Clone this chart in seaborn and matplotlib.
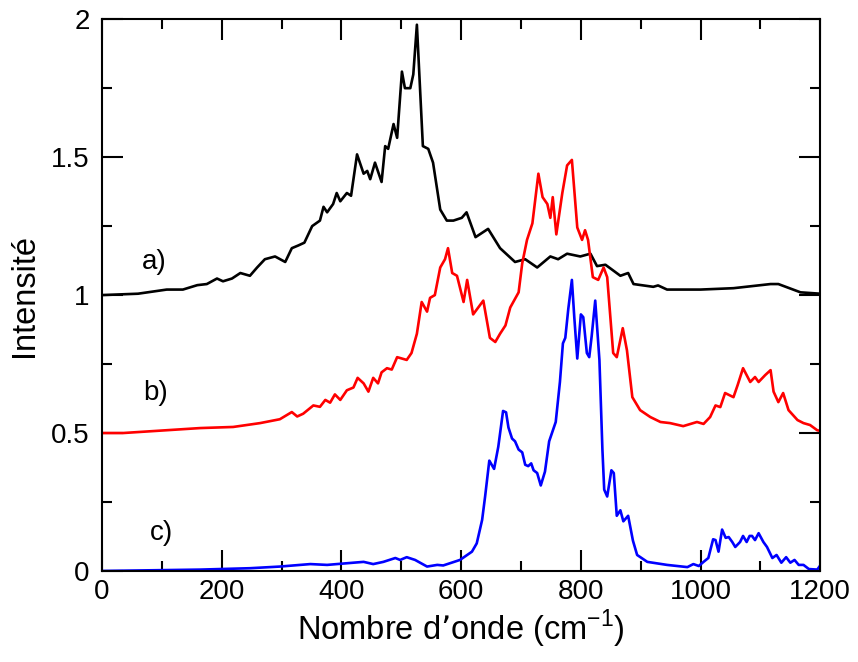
import numpy as np
import pandas as pd
import seaborn as sns
import matplotlib.pyplot as plt
from matplotlib.ticker import MultipleLocator, FuncFormatter

# Spectre a) (noir)
xa = [0, 60, 108, 135, 159, 175, 192, 202, 217, 231, 247, 259, 272, 289, 306, 317, 328, 338,
      351, 364, 370, 376, 386, 392, 398, 409, 416, 426, 437, 443, 448, 456, 467, 473, 478,
      487, 493, 501, 506, 515, 520, 526, 536, 545, 553, 565, 576, 587, 601, 609, 624, 645,
      665, 690, 707, 727, 749, 762, 777, 799, 816, 827, 841, 866, 879, 888, 921, 929, 944,
      1000, 1055, 1117, 1130, 1167, 1200]
ya = [1.0, 1.005, 1.02, 1.02, 1.036, 1.04, 1.06, 1.05, 1.06, 1.08, 1.07, 1.10, 1.13, 1.14,
      1.12, 1.17, 1.18, 1.19, 1.25, 1.27, 1.32, 1.30, 1.33, 1.37, 1.34, 1.37, 1.36, 1.51,
      1.44, 1.45, 1.42, 1.48, 1.41, 1.54, 1.53, 1.62, 1.57, 1.81, 1.75, 1.75, 1.80, 1.98,
      1.54, 1.53, 1.48, 1.31, 1.27, 1.27, 1.28, 1.30, 1.21, 1.24, 1.17, 1.12, 1.13, 1.10,
      1.14, 1.13, 1.15, 1.14, 1.15, 1.105, 1.11, 1.07, 1.08, 1.04, 1.03, 1.035, 1.02, 1.02,
      1.025, 1.04, 1.04, 1.01, 1.005]

# Spectre b) (rouge)
xb = [0, 35, 164, 219, 264, 297, 317, 326, 336, 353, 364, 373, 381, 389, 398, 409, 420, 427,
      437, 445, 453, 461, 467, 476, 484, 493, 501, 509, 517, 526, 534, 543, 548, 556, 565,
      573, 578, 585, 593, 604, 610, 620, 637, 648, 657, 665, 674, 682, 696, 702, 710, 719,
      729, 736, 744, 749, 753, 759, 769, 777, 785, 794, 802, 807, 812, 820, 829, 838, 844,
      854, 860, 870, 877, 886, 899, 916, 933, 949, 971, 994, 1005, 1016, 1025, 1033, 1041,
      1055, 1062, 1071, 1083, 1091, 1097, 1108, 1117, 1122, 1130, 1138, 1147, 1162, 1172,
      1183, 1195, 1200]
yb = [0.50, 0.50, 0.518, 0.522, 0.536, 0.55, 0.576, 0.56, 0.57, 0.60, 0.595, 0.62, 0.61,
      0.64, 0.62, 0.655, 0.665, 0.70, 0.68, 0.65, 0.70, 0.68, 0.72, 0.735, 0.73, 0.775,
      0.77, 0.765, 0.79, 0.86, 0.975, 0.94, 0.99, 1.0, 1.10, 1.13, 1.17, 1.08, 1.07, 0.975,
      1.055, 0.93, 0.98, 0.845, 0.83, 0.86, 0.89, 0.955, 1.01, 1.115, 1.20, 1.26, 1.44,
      1.355, 1.33, 1.28, 1.355, 1.22, 1.37, 1.47, 1.49, 1.245, 1.20, 1.235, 1.20, 1.065,
      1.055, 1.10, 1.065, 0.79, 0.775, 0.88, 0.80, 0.63, 0.583, 0.558, 0.54, 0.536, 0.525,
      0.54, 0.533, 0.558, 0.60, 0.594, 0.645, 0.63, 0.674, 0.735, 0.685, 0.703, 0.685,
      0.71, 0.728, 0.65, 0.612, 0.645, 0.583, 0.547, 0.536, 0.529, 0.51, 0.508]

# Spectre c) (bleu)
xc = [0, 164, 247, 297, 348, 376, 420, 437, 453, 470, 490, 498, 509, 523, 543, 560, 570,
      598, 618, 626, 635, 640, 647, 655, 662, 670, 675, 679, 685, 690, 696, 702, 707, 712,
      717, 721, 727, 733, 740, 747, 758, 765, 770, 774, 779, 785, 789, 794, 800, 804, 810,
      814, 818, 824, 831, 836, 839, 844, 851, 855, 860, 866, 871, 879, 887, 894, 911, 944,
      978, 988, 997, 1005, 1013, 1021, 1025, 1030, 1036, 1042, 1047, 1053, 1058, 1066,
      1071, 1077, 1082, 1086, 1091, 1097, 1105, 1111, 1120, 1127, 1135, 1143, 1150, 1157,
      1164, 1172, 1181, 1195, 1200]
yc = [0.0, 0.005, 0.01, 0.016, 0.025, 0.022, 0.03, 0.033, 0.025, 0.033, 0.047, 0.04, 0.05,
      0.04, 0.016, 0.022, 0.02, 0.04, 0.07, 0.10, 0.185, 0.27, 0.40, 0.37, 0.45, 0.58,
      0.575, 0.52, 0.48, 0.47, 0.44, 0.43, 0.385, 0.38, 0.39, 0.365, 0.355, 0.31, 0.36,
      0.47, 0.54, 0.685, 0.825, 0.845, 0.95, 1.055, 0.92, 0.77, 0.93, 0.92, 0.79, 0.775,
      0.85, 0.98, 0.765, 0.44, 0.295, 0.27, 0.365, 0.355, 0.20, 0.22, 0.18, 0.20, 0.11,
      0.058, 0.033, 0.022, 0.014, 0.025, 0.018, 0.033, 0.047, 0.115, 0.112, 0.07, 0.15,
      0.12, 0.123, 0.105, 0.087, 0.105, 0.127, 0.105, 0.127, 0.127, 0.112, 0.137, 0.105,
      0.087, 0.047, 0.058, 0.03, 0.05, 0.03, 0.04, 0.022, 0.022, 0.007, 0.005, 0.02]

sns.set_theme(style="ticks")
plt.rcParams['font.family'] = ['Liberation Sans', 'DejaVu Sans']
plt.rcParams['text.color'] = 'black'
plt.rcParams['axes.labelcolor'] = 'black'

fig = plt.figure(figsize=(8.58, 6.62), dpi=100)
ax = fig.add_axes([0.119, 0.1375, 0.837, 0.8335])

for xs, ys, col in [(xa, ya, "black"), (xb, yb, "red"), (xc, yc, "blue")]:
    df = pd.DataFrame({"x": xs, "y": ys})
    sns.lineplot(data=df, x="x", y="y", color=col, lw=1.9, estimator=None, ax=ax)

ax.set_xlim(0, 1200)
ax.set_ylim(0, 2)
ax.xaxis.set_major_locator(MultipleLocator(200))
ax.xaxis.set_minor_locator(MultipleLocator(100))
ax.yaxis.set_major_locator(MultipleLocator(0.5))
ax.yaxis.set_minor_locator(MultipleLocator(0.25))
ax.yaxis.set_major_formatter(FuncFormatter(lambda v, p: f"{v:g}"))
ax.tick_params(which="both", direction="in", top=True, right=True, width=1.5,
               labelsize=20, colors="black")
ax.tick_params(which="major", length=15)
ax.tick_params(which="minor", length=7.5)
ax.tick_params(axis="y", pad=9)
ax.tick_params(axis="x", pad=6)
for sp in ax.spines.values():
    sp.set_linewidth(1.5)
    sp.set_color("black")

ax.set_xlabel("Nombre d\u2019onde (cm$^{\\mathregular{-1}}$)", fontsize=23.5, labelpad=2)
ax.set_ylabel("Intensit\u00e9", fontsize=23.5, labelpad=8)

ax.text(87, 1.12, "a)", fontsize=20, ha="center", va="center")
ax.text(89, 0.645, "b)", fontsize=20, ha="center", va="center")
ax.text(99, 0.138, "c)", fontsize=20, ha="center", va="center")

fig.savefig("out.png", dpi=100)
